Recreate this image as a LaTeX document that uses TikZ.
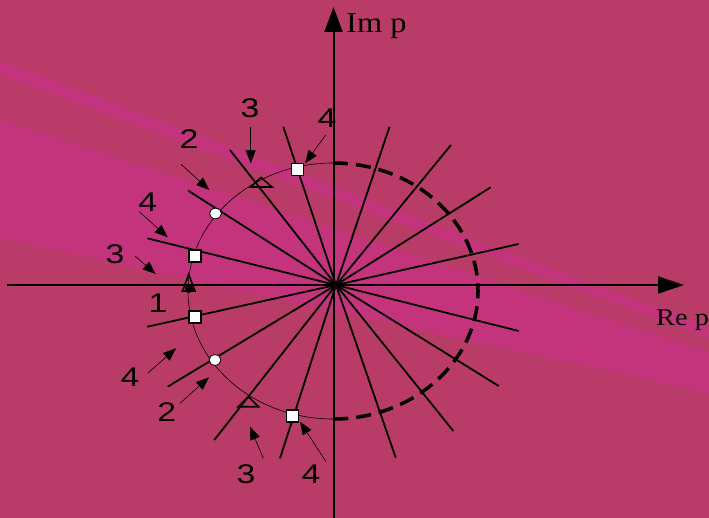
\documentclass[tikz,border=0pt]{standalone}
\usepackage{fontspec}
\setmainfont{Liberation Serif}
\newfontfamily\digitfont{Liberation Sans}
\usetikzlibrary{arrows.meta,shapes.geometric}
\definecolor{bgc}{RGB}{185,60,104}
\definecolor{bandc}{RGB}{196,52,124}
\newcommand\stretchnum[1]{\scalebox{1.25}[1]{#1}}
\begin{document}
\begin{tikzpicture}[x=1pt,y=-1pt,
  ray/.style={line width=1.8pt},
  axisline/.style={line width=2pt},
  ptr/.style={line width=0.6pt,-{Triangle[length=13pt,width=10pt]}},
  num/.style={font=\digitfont\fontsize{27}{27}\selectfont, inner sep=0pt},
  sq/.style={draw, fill=white, line width=1.4pt, minimum size=12pt, inner sep=0pt},
  rnd/.style={draw, fill=white, ellipse, line width=0.8pt, minimum width=12pt, minimum height=10.5pt, inner sep=0pt},
  tri/.style={line width=1.6pt, line join=miter},
  thinarc/.style={line width=0.6pt},
  thickdash/.style={line width=3.5pt, dash pattern=on 15pt off 8pt}
]
\useasboundingbox (0,0) rectangle (709,518);
% background and bands
\fill[bgc] (0,0) rectangle (709,518);
\fill[bandc] (0,60) -- (709,328) -- (709,338) -- (0,75) -- cycle;
\fill[bandc] (0,119) -- (709,352) -- (709,393) -- (0,238) -- cycle;

% axes
\coordinate (xl) at (7,285);
\coordinate (xr) at (684,285);
\coordinate (yb) at (333.5,518);
\coordinate (yt) at (333.5,7);
\draw[axisline,-{Triangle[length=26pt,width=17pt]}] (xl) -- (xr);
\draw[axisline,-{Triangle[length=25pt,width=18pt]}] (yb) -- (yt);
\node[anchor=base west, inner sep=0pt, font=\fontsize{29}{29}\selectfont] (im) at (346,33) {\scalebox{1.12}[1]{Im p}};
\node[anchor=base west, inner sep=0pt, font=\fontsize{24}{24}\selectfont] (re) at (656,325.7) {\scalebox{1.18}[1]{Re p}};

% rays
\coordinate (O) at (336,285);
\foreach \n/\a/\b in {1/{283.3,126.7}/{395.7,457.7},
                      2/{230,150}/{453.3,431},
                      3/{188.3,190.7}/{498.7,386},
                      4/{147.3,238.3}/{518.7,331},
                      5/{147.3,326.7}/{518.7,244},
                      6/{167.7,386.7}/{490.7,187.3},
                      7/{214.3,440}/{451,145},
                      8/{280,458.3}/{389.5,127}}{
  \coordinate (ra\n) at (\a);
  \coordinate (rb\n) at (\b);
  \draw[ray] (ra\n) -- (O) -- (rb\n);
}

% ellipse
\coordinate (E) at (333,291);
\draw[thinarc] (E) ++(0,-128) arc[start angle=90, end angle=270, x radius=145pt, y radius=128pt];
\draw[thickdash] (E) ++(0,-128) arc[start angle=90, end angle=-90, x radius=145pt, y radius=128pt];

% markers
\node[sq] (s1) at (297.5,169.5) {};
\node[sq] (s2) at (195,256) {};
\node[sq] (s3) at (195,317) {};
\node[sq] (s4) at (292.5,416) {};
\node[rnd] (c1) at (215.5,213.5) {};
\node[rnd] (c2) at (215,360) {};
\coordinate (t1a) at (261,177.5); \coordinate (t1b) at (272,187); \coordinate (t1c) at (250.5,187);
\draw[tri] (t1a) -- (t1b) -- (t1c) -- cycle;
\coordinate (t2a) at (248.3,396.7); \coordinate (t2b) at (258.5,406.7); \coordinate (t2c) at (238.3,406.7);
\draw[tri] (t2a) -- (t2b) -- (t2c) -- cycle;
\coordinate (t3a) at (188.7,274.3); \coordinate (t3b) at (195,291); \coordinate (t3c) at (182.5,291);
\draw[tri] (t3a) -- (t3b) -- (t3c) -- cycle;
\node[circle, fill=black, minimum size=9pt, inner sep=0pt] (dot) at (189.3,288.3) {};

% pointer arrows
\foreach \n/\a/\b in {1/{250.7,127.3}/{250.7,163.3},
                      2/{325.7,135}/{305,163.3},
                      3/{180.7,164}/{209.3,190},
                      4/{139.3,211.7}/{167.7,237.3},
                      5/{135,256}/{155.7,274},
                      6/{147.7,373.3}/{176,348.3},
                      7/{180,403.3}/{209,377.3},
                      8/{263.3,458.3}/{250,426.7},
                      9/{326,461.7}/{300,421.7}}{
  \coordinate (pa\n) at (\a);
  \coordinate (pb\n) at (\b);
  \draw[ptr] (pa\n) -- (pb\n);
}

% labels
\node[num] (l1) at (250,108) {\stretchnum{3}};
\node[num] (l2) at (327,118) {\stretchnum{4}};
\node[num] (l3) at (189,139) {\stretchnum{2}};
\node[num] (l4) at (147.7,202) {\stretchnum{4}};
\node[num] (l5) at (115,254) {\stretchnum{3}};
\node[num] (l6) at (158,303) {\stretchnum{1}};
\node[num] (l7) at (130,377) {\stretchnum{4}};
\node[num] (l8) at (166.7,411.7) {\stretchnum{2}};
\node[num] (l9) at (246,474) {\stretchnum{3}};
\node[num] (l10) at (311,474) {\stretchnum{4}};
\end{tikzpicture}
\end{document}
